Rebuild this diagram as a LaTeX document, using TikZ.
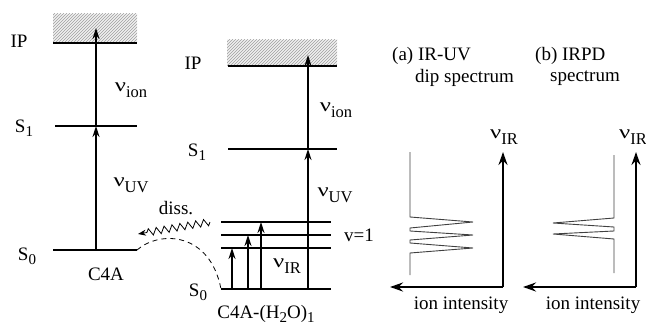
\documentclass[tikz,border=0pt]{standalone}
\usepackage{graphicx}
\usepackage{fontspec}
\setmainfont{Liberation Serif}
\usetikzlibrary{arrows.meta,patterns,decorations.pathmorphing}
\newcommand\lsub[1]{\raisebox{-0.45ex}{\fontsize{15}{15}\selectfont #1}}
\newcommand\nusub[1]{\raisebox{1pt}{\scalebox{1.3}[1]{ν}}\raisebox{-5pt}{\fontsize{16.5}{16.5}\selectfont #1}}
\begin{document}
\begin{tikzpicture}[x=1pt,y=-1pt,font=\fontsize{19}{22}\selectfont,
  level/.style={line width=2.4pt},
  trans/.style={line width=1.6pt,-{Stealth[length=11pt,width=7pt]}},
  axis/.style={line width=2.4pt,-{Stealth[length=13pt,width=9pt]}},
  spec/.style={line width=0.9pt,black!75,line join=miter},
  hatchbg/.style={fill=gray!12},
  hatch/.style={pattern=north east lines,pattern color=gray!75},
  lbl/.style={inner sep=0pt}]
\useasboundingbox (0,0) rectangle (646,329);

% ---------- left: C4A ----------
\fill[hatchbg] (53,14) rectangle (137,43);
\fill[hatch] (53,14) rectangle (137,43);
\coordinate (aIPl) at (53,43);  \coordinate (aIPr) at (137,43);
\coordinate (aS1l) at (55,126); \coordinate (aS1r) at (137,126);
\coordinate (aS0l) at (53,250); \coordinate (aS0r) at (137,250);
\draw[level] (aIPl) -- (aIPr);
\draw[level] (aS1l) -- (aS1r);
\draw[level] (aS0l) -- (aS0r);
\coordinate (a0) at (96,250); \coordinate (a1) at (96,126); \coordinate (a2) at (96,28);
\draw[trans] (a0) -- (a1);
\draw[trans] (a1) -- (a2);
\node[lbl] (aIP) at (19,41) {IP};
\node[lbl] (aS1) at (24,128) {S\lsub{1}};
\node[lbl] (aS0) at (27,256) {S\lsub{0}};
\node[lbl] (aion) at (131,90) {\nusub{ion}};
\node[lbl] (auv) at (131,185) {\nusub{UV}};
\node[lbl] (aname) at (106,274) {C4A};

% ---------- middle: C4A-(H2O)1 ----------
\fill[hatchbg] (227,40) rectangle (337,66);
\fill[hatch] (227,40) rectangle (337,66);
\coordinate (bIPl) at (228,66);  \coordinate (bIPr) at (337,66);
\coordinate (bS1l) at (228,149); \coordinate (bS1r) at (337,149);
\coordinate (bV3l) at (221,222); \coordinate (bV3r) at (331,222);
\coordinate (bV2l) at (221,235); \coordinate (bV2r) at (331,235);
\coordinate (bV1l) at (221,248); \coordinate (bV1r) at (331,248);
\coordinate (bS0l) at (221,289); \coordinate (bS0r) at (331,289);
\draw[level] (bIPl) -- (bIPr);
\draw[level] (bS1l) -- (bS1r);
\draw[level] (bV3l) -- (bV3r);
\draw[level] (bV2l) -- (bV2r);
\draw[level] (bV1l) -- (bV1r);
\draw[level] (bS0l) -- (bS0r);
\coordinate (b0) at (308,289); \coordinate (b1) at (308,149); \coordinate (b2) at (308,55);
\draw[trans] (b0) -- (b1);
\draw[trans] (b1) -- (b2);
\coordinate (ir1a) at (232,289); \coordinate (ir1b) at (232,248);
\coordinate (ir2a) at (248,289); \coordinate (ir2b) at (248,235);
\coordinate (ir3a) at (261,289); \coordinate (ir3b) at (261,222);
\draw[trans] (ir1a) -- (ir1b);
\draw[trans] (ir2a) -- (ir2b);
\draw[trans] (ir3a) -- (ir3b);
\node[lbl] (bIP) at (193,63) {IP};
\node[lbl] (bS1) at (197,152) {S\lsub{1}};
\node[lbl] (bS0) at (198,292) {S\lsub{0}};
\node[lbl] (bion) at (336,110) {\nusub{ion}};
\node[lbl] (buv) at (335,195) {\nusub{UV}};
\node[lbl] (bir) at (287,266) {\nusub{IR}};
\node[lbl] (bv) at (359,235) {v=1};
\node[lbl] (bname) at (266,314) {C4A-(H\lsub{2}O)\lsub{1}};

% dissociation
\node[lbl] (diss) at (176,208) {diss.};
\coordinate (zs) at (210,222); \coordinate (ze) at (138,234);
\draw[line width=0.8pt,decorate,decoration={zigzag,segment length=8pt,amplitude=3.5pt,post length=7pt},-{Stealth[length=8pt,width=6pt]}] (zs) -- (ze);
\draw[line width=0.8pt,dash pattern=on 5pt off 4pt] (aS0r) .. controls (160,230) and (210,232) .. (bS0l);

% ---------- spectra ----------
\node[lbl,anchor=west] (ta1) at (392,56) {(a) IR-UV};
\node[lbl,anchor=west] (ta2) at (415,78) {dip spectrum};
\node[lbl,anchor=west] (tb1) at (535,56) {(b) IRPD};
\node[lbl,anchor=west] (tb2) at (550,78) {spectrum};

\coordinate (ao) at (503,287); \coordinate (ay) at (503,152); \coordinate (ax) at (390,287);
\draw[axis] (ao) -- (ay);
\draw[axis] (ao) -- (ax);
\node[lbl] (ayl) at (504,137) {\nusub{IR}};
\node[lbl] (axl) at (461,305) {ion intensity};
\draw[spec] (410,152) -- (410,217) -- (473,222) -- (410,228) -- (410,231) -- (473,235) -- (410,240) -- (410,243) -- (473,248) -- (410,253) -- (410,275);

\coordinate (bo) at (636,287); \coordinate (by) at (636,152); \coordinate (bx) at (523,287);
\draw[axis] (bo) -- (by);
\draw[axis] (bo) -- (bx);
\node[lbl,anchor=west] (byl) at (619,137) {\nusub{IR}};
\node[lbl] (bxl) at (593,305) {ion intensity};
\draw[spec] (614,155) -- (614,218) -- (553,223) -- (614,227) -- (614,231) -- (553,234) -- (614,239) -- (614,273);
\end{tikzpicture}
\end{document}
